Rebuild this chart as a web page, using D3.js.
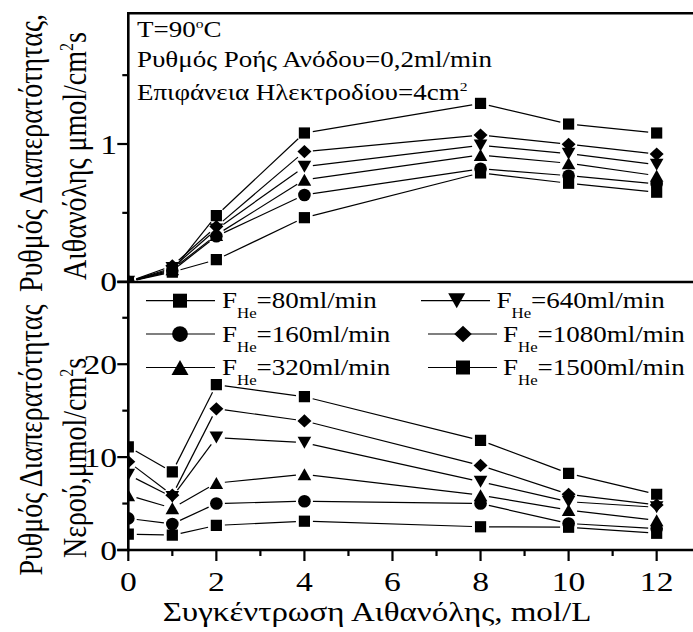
<!DOCTYPE html>
<html lang="el">
  <head>
    <meta charset="UTF-8" />
    <title>Ρυθμός Διαπερατότητας</title>
    <style>
      body { margin: 0; background: #fff; }
      text { font-family: "Liberation Serif", "Times New Roman", serif; fill: #000; }
    </style>
  </head>
  <body>
    <svg width="693" height="632"></svg>
    <script src="https://cdn.jsdelivr.net/npm/d3@7/dist/d3.min.js"></script>
    <script>
      // concentration of ethanol, mol/L
      var conc = [0, 1, 2, 4, 8, 10, 12];
      var flows = ["80", "160", "320", "640", "1080", "1500"];
      var shapes = ["square", "circle", "triUp", "triDown", "diamond", "square"];

      // ethanol permeation rate (top panel)
      var eth80 = [0, 0.07, 0.16, 0.465, 0.79, 0.715, 0.65];
      var eth160 = [0, 0.08, 0.33, 0.63, 0.82, 0.77, 0.71];
      var eth320 = [0, 0.09, 0.34, 0.74, 0.92, 0.86, 0.77];
      var eth640 = [0, 0.1, 0.38, 0.835, 0.99, 0.93, 0.85];
      var eth1080 = [0, 0.115, 0.4, 0.945, 1.065, 0.998, 0.927];
      var eth1500 = [0, 0.08, 0.48, 1.08, 1.295, 1.145, 1.08];

      // water permeation rate (bottom panel)
      var wat80 = [1.7, 1.6, 2.65, 3.1, 2.5, 2.45, 1.8];
      var wat160 = [3.4, 2.8, 5.0, 5.25, 5.0, 2.85, 2.3];
      var wat320 = [5.9, 4.5, 7.2, 8.15, 5.9, 4.3, 3.2];
      var wat640 = [8.1, 5.7, 12.1, 11.55, 7.35, 5.2, 4.6];
      var wat1080 = [9.5, 5.9, 15.2, 13.9, 9.1, 6.0, 4.85];
      var wat1500 = [11.1, 8.4, 17.8, 16.5, 11.8, 8.25, 6.0];

      var xTicks = [0, 2, 4, 6, 8, 10, 12];
      var topTicks = [0, 1];
      var botTicks = [0, 10, 20];

      var ethSeries = [eth80, eth160, eth320, eth640, eth1080, eth1500];
      var watSeries = [wat80, wat160, wat320, wat640, wat1080, wat1500];

      var SX = 1.2; // glyphs in the original are a bit wide
      var svg = d3.select("svg");
      var left = 128.3, yTop = 13.3, yMid = 282, yBot = 550;

      var x = d3.scaleLinear().domain([0, 13.5]).range([left, left + 13.5 * 44.03]);
      var yE = d3.scaleLinear().domain([0, 1.95]).range([281.7, 13.2]);
      var yW = d3.scaleLinear().domain([0, 28.85]).range([550, 282]);

      function marker(type, k) {
        var s = 5.6 * k;
        if (type == "square") return "M" + -s + "," + -s + "H" + s + "V" + s + "H" + -s + "Z";
        if (type == "circle") {
          var r = 6.3 * k;
          return "M" + r + ",0A" + r + "," + r + " 0 1,1 " + -r + ",0A" + r + "," + r + " 0 1,1 " + r + ",0Z";
        }
        var w = 6.8 * k, h = 6 * k;
        if (type == "triUp") return "M0," + -h + "L" + w + "," + h + "L" + -w + "," + h + "Z";
        if (type == "triDown") return "M0," + h + "L" + w + "," + -h + "L" + -w + "," + -h + "Z";
        var dw = 7 * k, dh = 6.6 * k;
        return "M0," + -dh + "L" + dw + ",0L0," + dh + "L" + -dw + ",0Z";
      }

      function label(g, str, px, py, size, anchor) {
        return g.append("text")
          .attr("transform", "translate(" + px + "," + py + ") scale(" + SX + ",1)")
          .attr("font-size", size)
          .attr("text-anchor", anchor || "start")
          .text(str);
      }

      var defs = svg.append("defs");
      defs.append("clipPath").attr("id", "clipTop").append("rect")
        .attr("x", left).attr("y", 0).attr("width", 700).attr("height", yMid);
      defs.append("clipPath").attr("id", "clipBot").append("rect")
        .attr("x", left).attr("y", yMid).attr("width", 700).attr("height", yBot - yMid);

      function drawPanel(series, y, clip) {
        var g = svg.append("g").attr("clip-path", "url(#" + clip + ")");
        var gap = 8.5;
        series.forEach(function (vals, si) {
          var pts = conc.map(function (c, i) { return [x(c), y(vals[i])]; });
          for (var i = 0; i < pts.length - 1; i++) {
            var a = pts[i], b = pts[i + 1];
            var dx = b[0] - a[0], dy = b[1] - a[1], len = Math.sqrt(dx * dx + dy * dy);
            if (len <= 2 * gap) continue;
            var ux = dx / len, uy = dy / len;
            g.append("line")
              .attr("x1", a[0] + ux * gap).attr("y1", a[1] + uy * gap)
              .attr("x2", b[0] - ux * gap).attr("y2", b[1] - uy * gap)
              .attr("stroke", "#000").attr("stroke-width", 1.2);
          }
        });
        series.forEach(function (vals, si) {
          g.selectAll(null).data(vals).enter().append("path")
            .attr("d", marker(shapes[si], 1))
            .attr("transform", function (d, i) { return "translate(" + x(conc[i]) + "," + y(d) + ")"; })
            .attr("fill", "#000");
        });
      }

      drawPanel(ethSeries, yE, "clipTop");
      drawPanel(watSeries, yW, "clipBot");

      // frame lines
      var frame = svg.append("g").attr("stroke", "#000").attr("stroke-width", 2.6);
      frame.append("line").attr("x1", left).attr("x2", 693).attr("y1", yTop).attr("y2", yTop);
      frame.append("line").attr("x1", left - 11).attr("x2", 693).attr("y1", yMid).attr("y2", yMid);
      frame.append("line").attr("x1", left - 11).attr("x2", 693).attr("y1", yBot).attr("y2", yBot);
      frame.append("line").attr("x1", left).attr("x2", left).attr("y1", yTop - 1.3).attr("y2", yBot + 1.3);

      // axes ticks
      var xMinor = d3.range(1, 13, 2);
      var tk = svg.append("g").attr("stroke", "#000").attr("stroke-width", 2.2);
      xTicks.forEach(function (v) {
        tk.append("line").attr("x1", x(v)).attr("x2", x(v)).attr("y1", yBot).attr("y2", yBot + 11);
      });
      xMinor.forEach(function (v) {
        tk.append("line").attr("x1", x(v)).attr("x2", x(v)).attr("y1", yBot).attr("y2", yBot + 6);
      });
      [0.5, 1.5].forEach(function (v) {
        tk.append("line").attr("x1", left - 6).attr("x2", left).attr("y1", yE(v)).attr("y2", yE(v));
      });
      topTicks.forEach(function (v) {
        tk.append("line").attr("x1", left - 11).attr("x2", left).attr("y1", yE(v)).attr("y2", yE(v));
      });
      [5, 15, 25].forEach(function (v) {
        tk.append("line").attr("x1", left - 6).attr("x2", left).attr("y1", yW(v)).attr("y2", yW(v));
      });
      botTicks.forEach(function (v) {
        tk.append("line").attr("x1", left - 11).attr("x2", left).attr("y1", yW(v)).attr("y2", yW(v));
      });

      var tl = svg.append("g");
      xTicks.forEach(function (v) { label(tl, v, x(v), 591, 28, "middle"); });
      topTicks.forEach(function (v) { label(tl, v, 117, yE(v) + 9.5, 28, "end"); });
      botTicks.forEach(function (v) { label(tl, v, 117, yW(v) + 9.5, 28, "end"); });

      // axis titles
      label(svg, "Συγκέντρωση Αιθανόλης, mol/L", 377, 621, 27.5, "middle");

      function vlabel(parts, px, py) {
        var t = svg.append("text")
          .attr("transform", "translate(" + px + "," + py + ") scale(" + SX + ",1) rotate(-90)")
          .attr("font-size", 28).attr("text-anchor", "middle");
        t.append("tspan").text(parts[0]);
        if (parts.length > 1) {
          t.append("tspan").attr("font-size", 16).attr("dy", -11).text("2");
          t.append("tspan").attr("dy", 11).text(parts[1]);
        }
      }
      vlabel(["Ρυθμός Διαπερατότητας,"], 42, 153);
      vlabel(["Αιθανόλης μmol/cm", "s"], 86, 156);
      vlabel(["Ρυθμός Διαπερατότητας"], 42, 440);
      vlabel(["Νερού,μmol/cm", "s"], 86, 458);

      // conditions text
      var t1 = label(svg, "T=90", 137, 36.7, 22.5).text("T=90");
      t1.append("tspan").attr("font-size", 13).attr("dy", -9).text("o");
      t1.append("tspan").attr("dy", 9).text("C");
      label(svg, "Ρυθμός Ροής Ανόδου=0,2ml/min", 137, 66.7, 22.5);
      var t3 = label(svg, "Επιφάνεια Ηλεκτροδίου=4cm", 137, 100, 22.5);
      t3.append("tspan").attr("font-size", 13).attr("dy", -9).text("2");

      // legend
      var legRows = [
        { lx: 146, mx: 180, tx: 222, y: 300.7 },
        { lx: 146, mx: 180, tx: 222, y: 334 },
        { lx: 146, mx: 180, tx: 222, y: 367.5 },
        { lx: 421, mx: 456.7, tx: 496.5, y: 300.7 },
        { lx: 428, mx: 463, tx: 503, y: 334 },
        { lx: 428, mx: 463, tx: 503, y: 367.5 }
      ];
      var leg = svg.append("g");
      flows.forEach(function (f, i) {
        var r = legRows[i];
        leg.append("line").attr("x1", r.lx).attr("x2", r.lx + 69).attr("y1", r.y).attr("y2", r.y)
          .attr("stroke", "#000").attr("stroke-width", 1.2);
        leg.append("path").attr("d", marker(shapes[i], 1.25))
          .attr("transform", "translate(" + r.mx + "," + r.y + ")").attr("fill", "#000");
        var t = label(leg, "F", r.tx, r.y + 7.5, 22.5);
        t.append("tspan").attr("font-size", 14).attr("dy", 10).text("He");
        t.append("tspan").attr("dy", -10).text("=" + f + "ml/min");
      });
    </script>
  </body>
</html>
